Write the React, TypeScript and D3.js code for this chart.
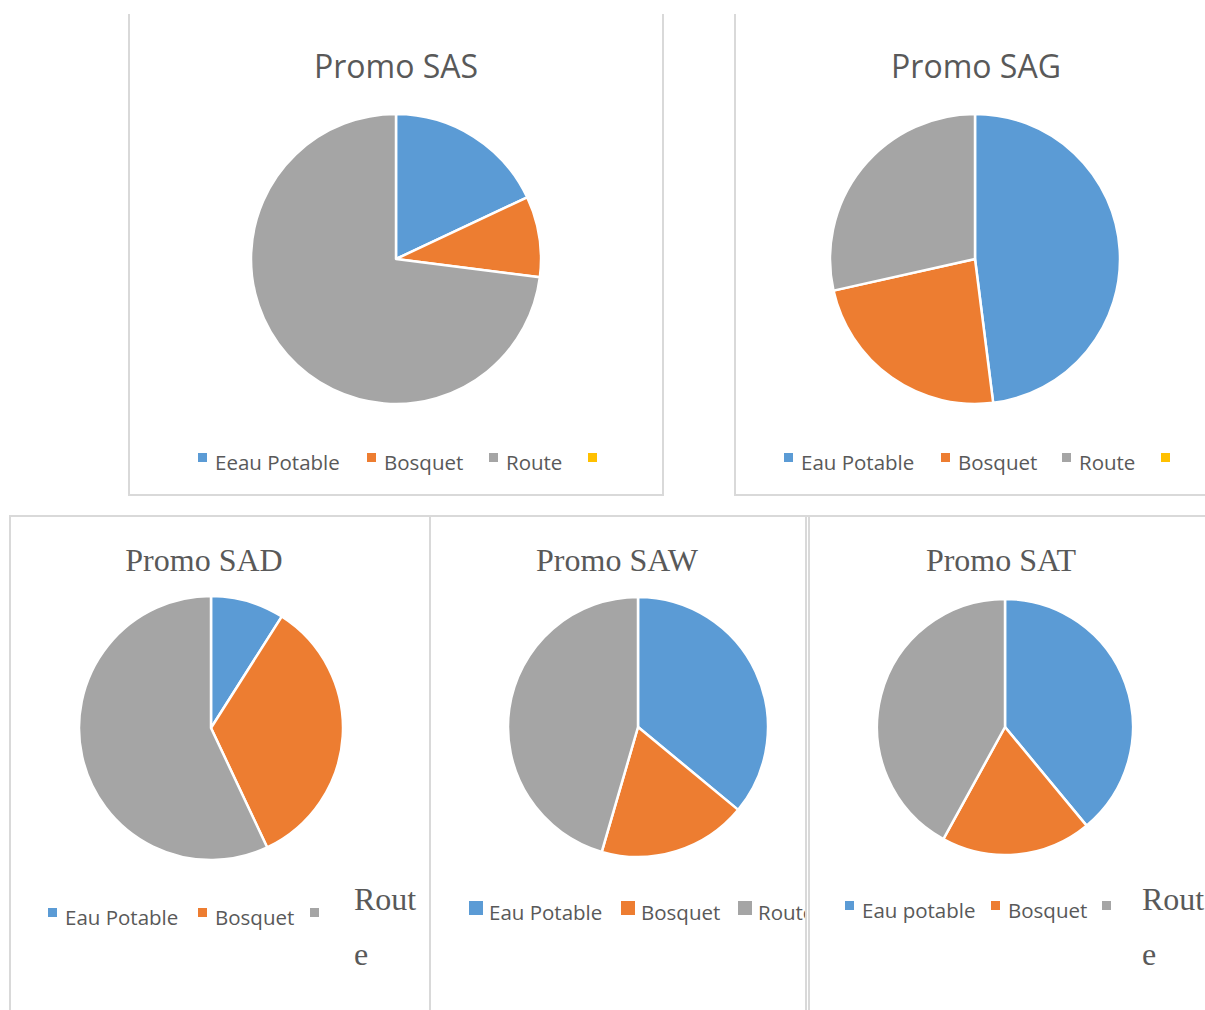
import React from 'react';
import * as d3 from 'd3';

// slice order: Eau Potable, Bosquet, Route
const categories = ['Eau Potable', 'Bosquet', 'Route'];
const sasValues = [18, 9, 73];
const sagValues = [48, 23.5, 28.5];
const sadValues = [9, 34, 57];
const sawValues = [36, 18.5, 45.5];
const satValues = [39, 19, 42];

const sasLegend = ['Eeau Potable', 'Bosquet', 'Route', ''];
const sagLegend = ['Eau Potable', 'Bosquet', 'Route', ''];
const sadLegend = ['Eau Potable', 'Bosquet', ''];
const sawLegend = ['Eau Potable', 'Bosquet', 'Route'];
const satLegend = ['Eau potable', 'Bosquet', ''];

const colors = ['#5B9BD5', '#ED7D31', '#A5A5A5', '#FFC000'];
const textColor = '#595959';
const borderColor = '#D9D9D9';
const sans = '"Open Sans", sans-serif';
const serif = '"Liberation Serif", "Times New Roman", serif';

type PanelProps = {
  id: string;
  title: string;
  titleFont: string;
  titleX: number;
  titleY: number;
  values: number[];
  cx: number;
  cy: number;
  r: number;
  legend: string[];
  legendX: number[];
  legendY: number;
  markerSize: number;
  clip: [number, number, number, number];
};

function Panel(props: PanelProps) {
  const { id, title, titleFont, titleX, titleY, values, cx, cy, r, legend, legendX, legendY, markerSize, clip } = props;

  const pie = d3.pie<number>().sort(null).value(d => d);
  const arc = d3.arc<d3.PieArcDatum<number>>().innerRadius(0).outerRadius(r);
  const slices = pie(values);
  const [cx0, cy0, cx1, cy1] = clip;

  return (
    <g clipPath={'url(#' + id + ')'}>
      <defs>
        <clipPath id={id}>
          <rect x={cx0} y={cy0} width={cx1 - cx0} height={cy1 - cy0} />
        </clipPath>
      </defs>
      <text x={titleX} y={titleY} textAnchor="middle" fontFamily={titleFont}
        fontSize={32} fill={textColor}>{title}</text>
      <g transform={'translate(' + cx + ',' + cy + ')'}>
        {slices.map((s, i) => (
          <path key={categories[i]} d={arc(s) || ''} fill={colors[i]} stroke="#fff" strokeWidth={2.5} strokeLinejoin="round" />
        ))}
      </g>
      {legend.map((label, i) => (
        <g key={i}>
          <rect x={legendX[i]} y={legendY - markerSize - (markerSize > 10 ? 5 : 8)} width={markerSize} height={markerSize} fill={colors[i]} />
          <text x={legendX[i] + markerSize + (markerSize > 10 ? 6 : 8)} y={legendY} fontFamily={sans} fontSize={20.5} fill={textColor}>{label}</text>
        </g>
      ))}
    </g>
  );
}

export default function App() {
  return (
    <svg width={1205} height={1010} style={{ position: 'absolute', left: 0, top: 0, background: '#fff' }}>
      <rect x={0} y={0} width={1205} height={1010} fill="#fff" />

      <Panel id="c-sas" title="Promo SAS" titleFont={sans} titleX={396} titleY={78} values={sasValues}
        cx={396} cy={259} r={145} legend={sasLegend} legendX={[198, 367, 489, 588]} legendY={470}
        markerSize={9} clip={[130, 14, 662, 494]} />
      <Panel id="c-sag" title="Promo SAG" titleFont={sans} titleX={976} titleY={78} values={sagValues}
        cx={975} cy={259} r={145} legend={sagLegend} legendX={[784, 941, 1062, 1161]} legendY={470}
        markerSize={9} clip={[736, 14, 1217, 494]} />
      <Panel id="c-sad" title="Promo SAD" titleFont={serif} titleX={204} titleY={571} values={sadValues}
        cx={211} cy={728} r={132} legend={sadLegend} legendX={[48, 198, 310]} legendY={925}
        markerSize={9} clip={[11, 517, 429, 1010]} />
      <Panel id="c-saw" title="Promo SAW" titleFont={serif} titleX={617} titleY={571} values={sawValues}
        cx={638} cy={727} r={130} legend={sawLegend} legendX={[469, 621, 738]} legendY={920}
        markerSize={14} clip={[431, 517, 805, 1010]} />
      <Panel id="c-sat" title="Promo SAT" titleFont={serif} titleX={1001} titleY={571} values={satValues}
        cx={1005} cy={727} r={128} legend={satLegend} legendX={[845, 991, 1102]} legendY={918}
        markerSize={9} clip={[810, 517, 1200, 1010]} />

      {/* "Route" wrapped onto two lines in two of the legends */}
      <text x={354} y={910} fontFamily={serif} fontSize={32} fill={textColor}>Rout</text>
      <text x={354} y={965} fontFamily={serif} fontSize={32} fill={textColor}>e</text>
      <text x={1142} y={910} fontFamily={serif} fontSize={32} fill={textColor}>Rout</text>
      <text x={1142} y={965} fontFamily={serif} fontSize={32} fill={textColor}>e</text>

      {/* frames */}
      <g stroke={borderColor} strokeWidth={2} fill="none">
        <path d="M129,14V495H663V14" />
        <path d="M735,14V495H1205" />
        <path d="M10,1010V516H1205" />
        <path d="M430,516V1010" />
        <path d="M806,516V1010" />
        <path d="M809,516V1010" />
      </g>
    </svg>
  );
}
